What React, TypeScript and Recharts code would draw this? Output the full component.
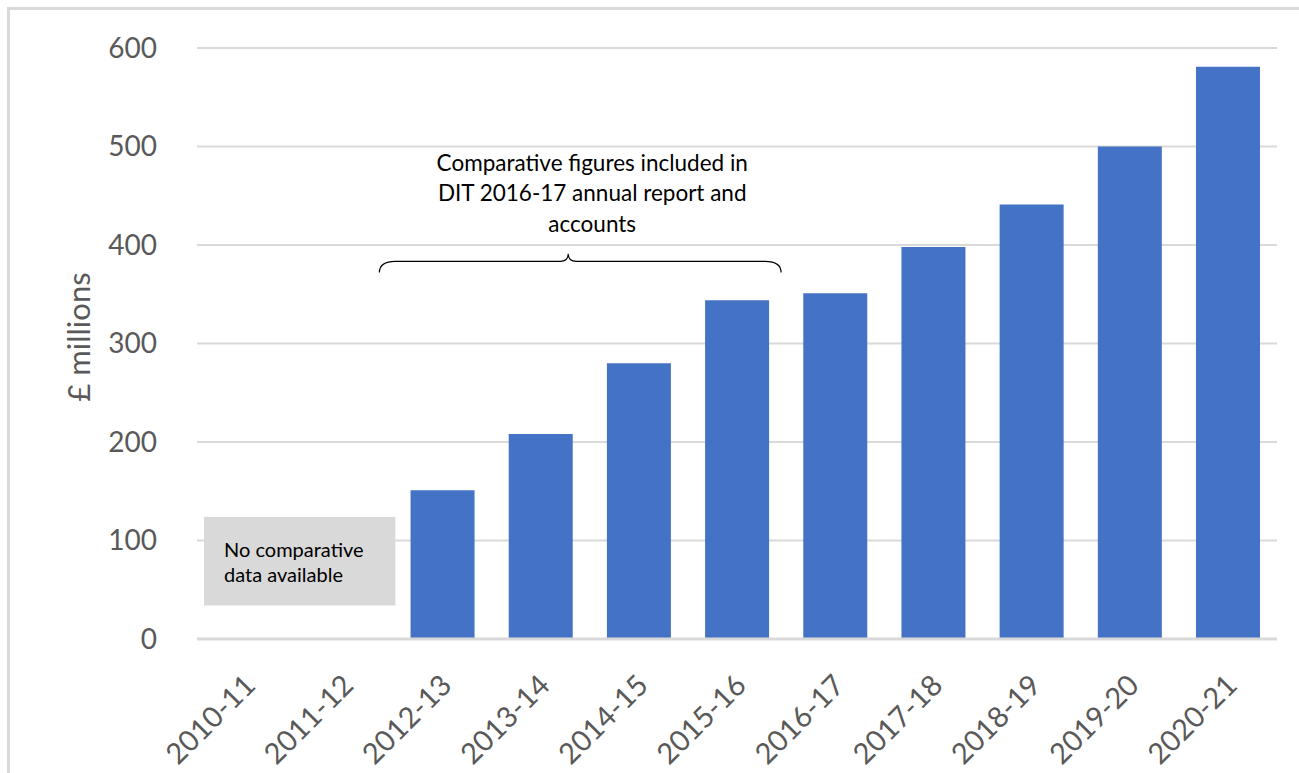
import { BarChart, Bar, XAxis, YAxis, CartesianGrid, ReferenceArea, Label } from 'recharts';

const years = ['2010-11', '2011-12', '2012-13', '2013-14', '2014-15', '2015-16', '2016-17', '2017-18', '2018-19', '2019-20', '2020-21'];
const costs = [null, null, 151, 208, 280, 344, 351, 398, 441, 500, 581];
const yTicks = [0, 100, 200, 300, 400, 500, 600];
const braceNote = ['Comparative figures included in', 'DIT 2016-17 annual report and', 'accounts'];
const boxNote = ['No comparative', 'data available'];

const data = years.map((year, i) => ({ year, value: costs[i] }));

const FONT = 'Lato, "Noto Sans", sans-serif';
const GREY = '#595959';

const XTick = ({ x, y, payload }: any) => {
  const ax = x + 11;
  const ay = y + 46;
  return (
    <text x={ax} y={ay} textAnchor="end" fill={GREY} fontSize={29} fontFamily={FONT} transform={`rotate(-45 ${ax} ${ay})`}>
      {payload.value}
    </text>
  );
};

// curly brace with the note sitting above it
const Brace = ({ x, y, width, height }: any) => {
  const x0 = x - 14;
  const x1 = x + width - 5;
  const mid = (x0 + x1) / 2 - 12;
  const top = y;
  const line = y + height * 0.4;
  const bot = y + height;
  const r = 8;
  const d = `M${x0},${bot} Q${x0},${line} ${x0 + r * 2},${line} L${mid - r},${line} Q${mid},${line} ${mid},${top}` +
    ` Q${mid},${line} ${mid + r},${line} L${x1 - r * 2},${line} Q${x1},${line} ${x1},${bot}`;
  return (
    <g>
      <path d={d} fill="none" stroke="#000" strokeWidth={1.2} />
      {braceNote.map((t, i) => (
        <text key={t} x={(x0 + x1) / 2 + 12} y={top - 83 + i * 30.5} textAnchor="middle" fontSize={22.5} fontFamily={FONT} fill="#000">
          {t}
        </text>
      ))}
    </g>
  );
};

const NoDataBox = ({ x, y, width, height }: any) => (
  <g>
    <rect x={x + 7} y={y} width={width - 5} height={height} fill="#d9d9d9" />
    {boxNote.map((t, i) => (
      <text key={t} x={x + 27} y={y + 40 + i * 25} fontSize={20} fontFamily={FONT} fill="#000">
        {t}
      </text>
    ))}
  </g>
);

export default function App() {
  return (
    <div style={{ position: 'absolute', left: 0, top: 0, width: 1299, height: 773, background: '#fff' }}>
      <div
        style={{
          position: 'absolute',
          left: 7,
          top: 7,
          width: 1292,
          height: 766,
          borderLeft: '3px solid #d9d9d9',
          borderTop: '3px solid #d9d9d9',
          boxSizing: 'border-box',
        }}
      />
      <div style={{ position: 'absolute', left: 0, top: 0 }}>
        <BarChart width={1299} height={773} data={data} margin={{ top: 48, right: 22, bottom: 0, left: 0 }} barCategoryGap="17.5%">
          <CartesianGrid vertical={false} stroke="#d9d9d9" strokeWidth={2} />
          <XAxis
            dataKey="year"
            height={134}
            tickLine={false}
            tickSize={0}
            axisLine={{ stroke: '#d9d9d9', strokeWidth: 3 }}
            tick={<XTick />}
            interval={0}
          />
          <YAxis
            width={197}
            domain={[0, 600]}
            ticks={yTicks}
            axisLine={false}
            tickLine={false}
            tickSize={0}
            tickMargin={40}
            tick={{ fill: GREY, fontSize: 28, fontFamily: FONT }}
          >
            <Label
              content={() => (
                <text x={90} y={337} textAnchor="middle" fill={GREY} fontSize={31} fontFamily={FONT} transform="rotate(-90 90 337)">
                  £ millions
                </text>
              )}
            />
          </YAxis>
          <ReferenceArea x1="2010-11" x2="2011-12" y1={34} y2={124} shape={<NoDataBox />} ifOverflow="visible" />
          <ReferenceArea x1="2012-13" x2="2015-16" y1={372} y2={391} shape={<Brace />} ifOverflow="visible" />
          <Bar dataKey="value" fill="#4472C4" isAnimationActive={false} />
        </BarChart>
      </div>
    </div>
  );
}
